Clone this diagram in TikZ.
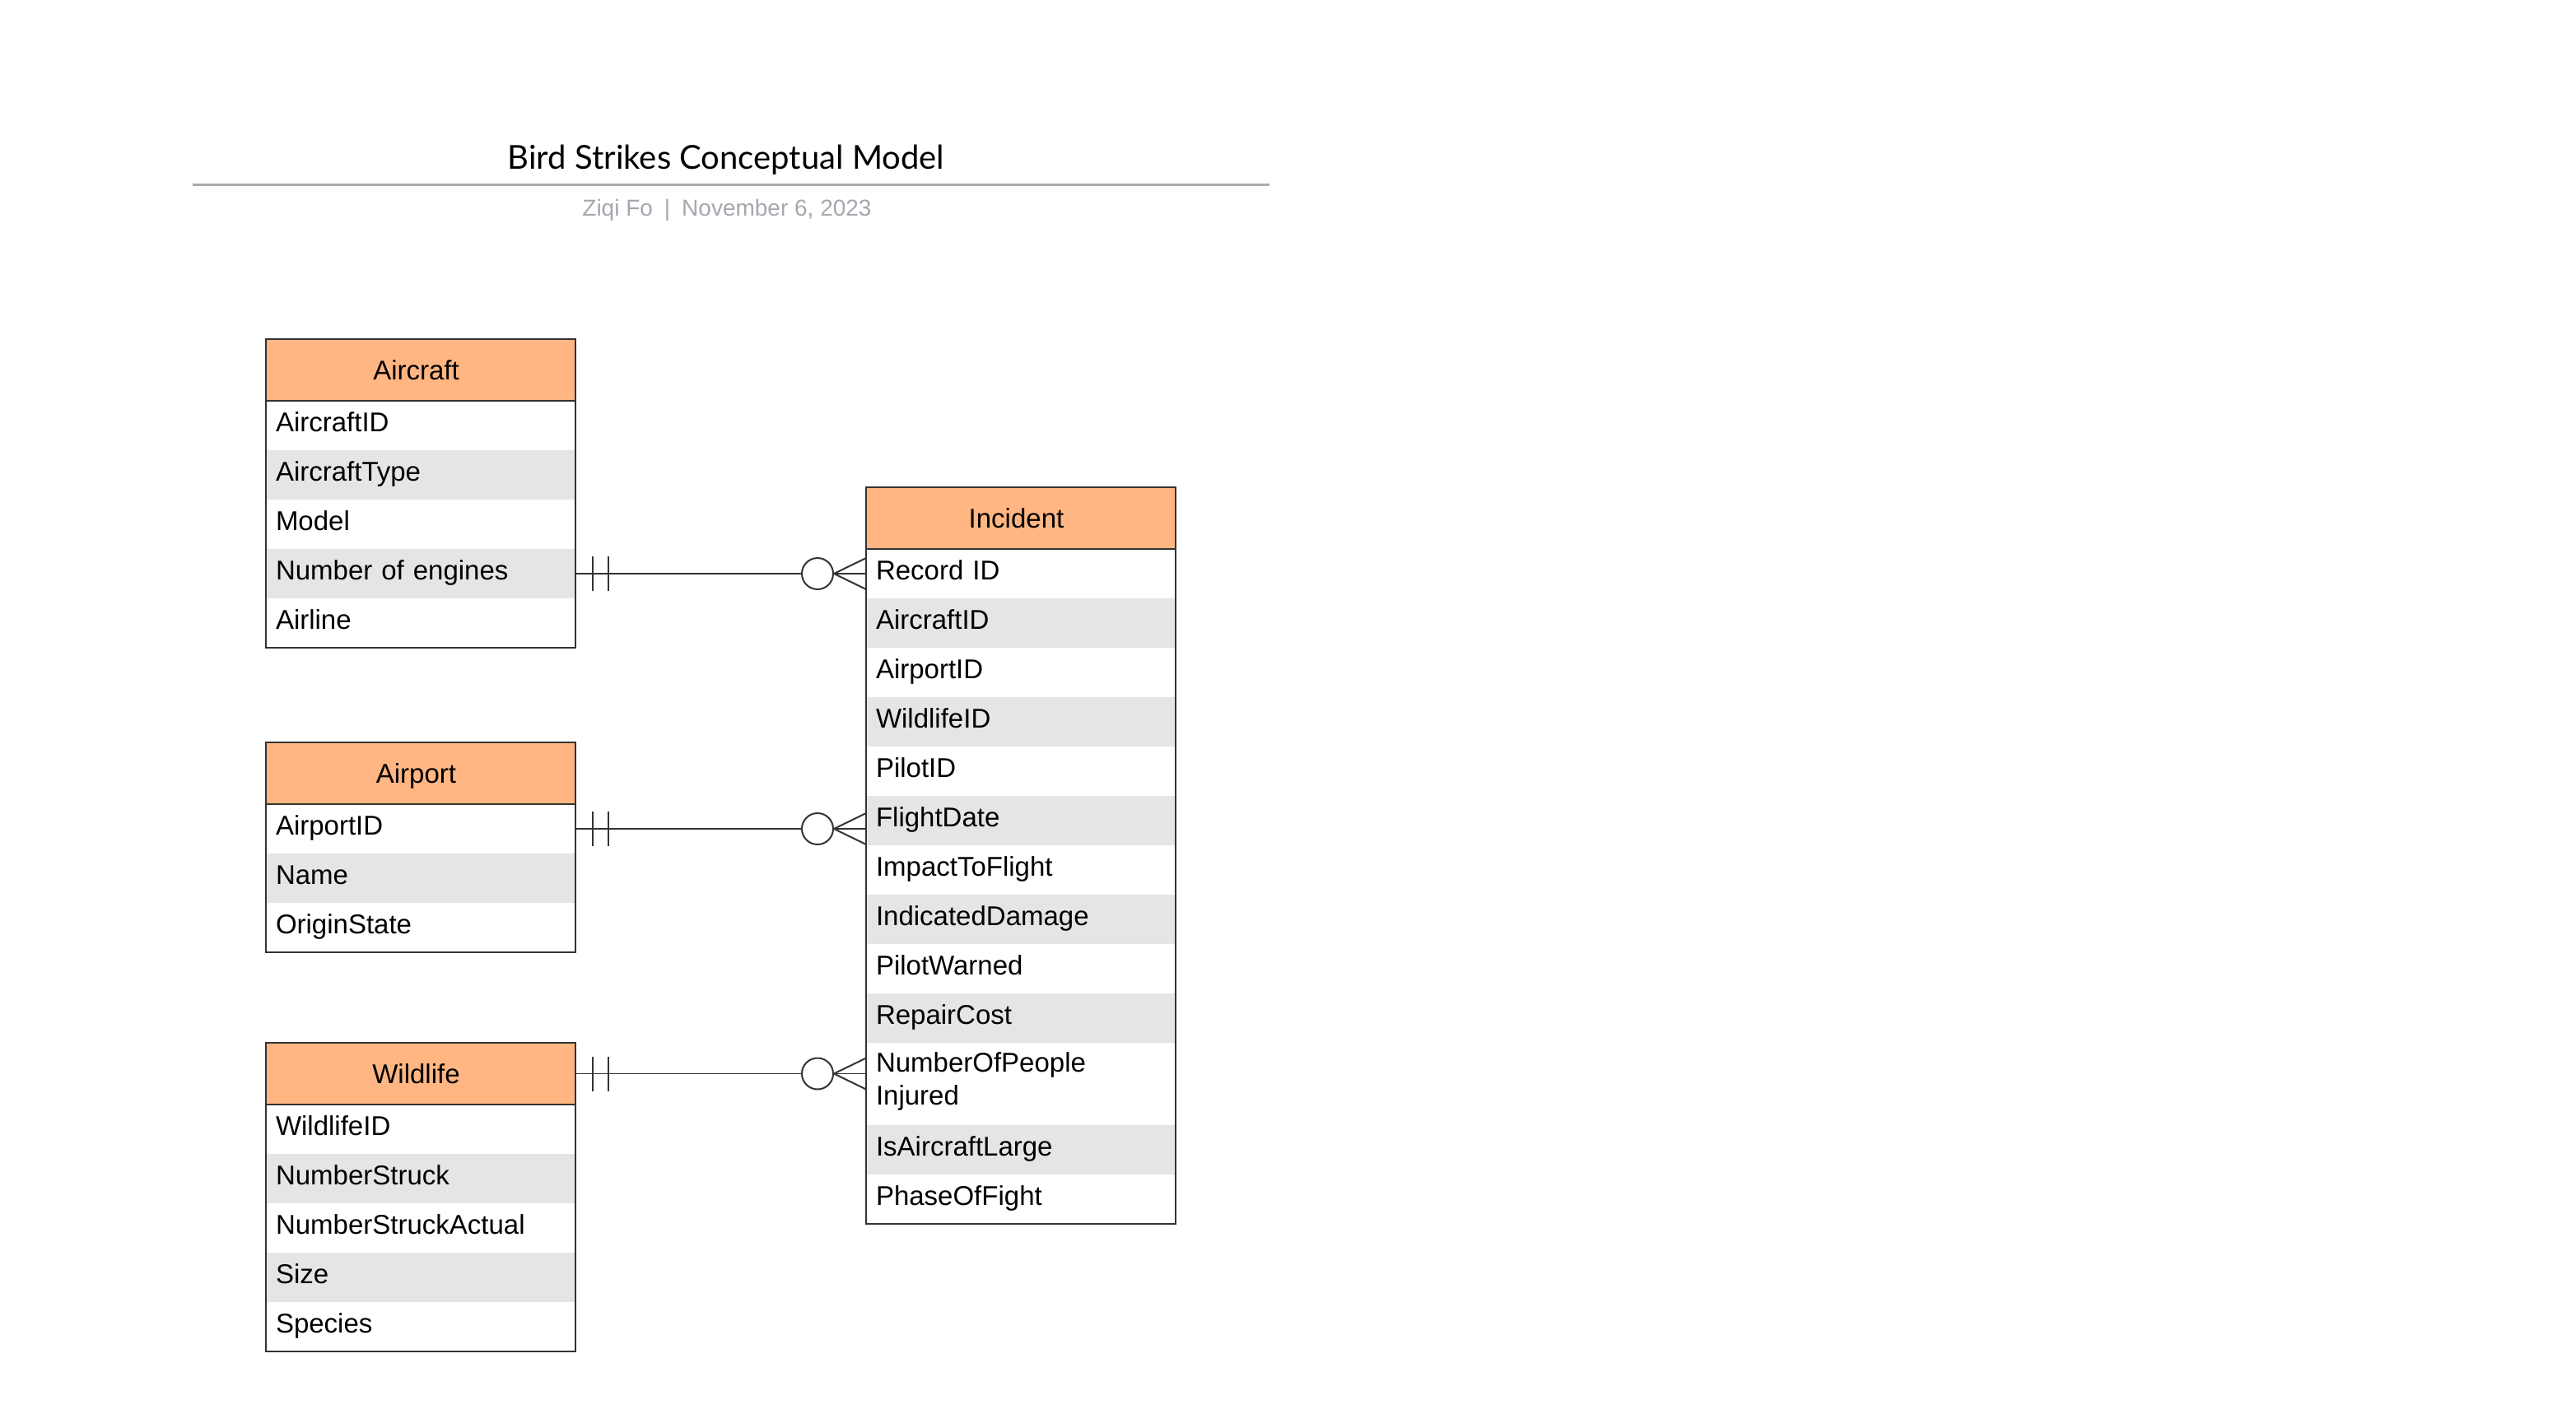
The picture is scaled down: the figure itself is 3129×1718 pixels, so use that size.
\documentclass[tikz,border=0pt]{standalone}
\usepackage{fontspec}
\usetikzlibrary{calc}
\newfontfamily\tabfont{Liberation Sans}
\newfontfamily\titlefont{Lato}
\definecolor{hdrfill}{HTML}{FFB682}
\definecolor{stripe}{HTML}{E5E5E5}
\definecolor{bord}{HTML}{333333}
\definecolor{subgray}{HTML}{A4A8AE}
\definecolor{rulegray}{HTML}{A8AAAE}
\newcommand\tabf{\tabfont\fontsize{33pt}{40pt}\selectfont}
\newcommand\erconn[2]{%
  \draw[conn] (#1) -- (#2);
  \draw[connmark] ($(#1)+(21,-21)$) -- ++(0,42);
  \draw[connmark] ($(#1)+(40,-21)$) -- ++(0,42);
  \draw[connmark, fill=white] ($(#2)+(-59,0)$) circle[radius=19pt];
  \draw[connmark] ($(#2)+(0,-19)$) -- ($(#2)+(-39,0)$) -- ($(#2)+(0,19)$);
}
\tikzset{
  hdr/.style={rectangle, draw=bord, line width=2pt, fill=hdrfill, minimum width=376pt,
    minimum height=75pt, inner sep=0pt, outer sep=0pt, font=\tabf, anchor=north west,
    text height=23.6pt, text depth=0pt, execute at end node={\hspace{11pt}}},
  rowW/.style={rectangle, fill=white, minimum width=376pt, minimum height=60pt,
    text width=352pt, align=left, inner xsep=12pt, inner ysep=0pt, outer sep=0pt,
    text height=23.6pt, text depth=9.6pt, font=\tabf, anchor=north west},
  rowG/.style={rowW, fill=stripe},
  tabborder/.style={draw=bord, line width=2pt},
  conn/.style={draw=bord, line width=1.5pt},
  connmark/.style={draw=bord, line width=2pt},
}
\begin{document}
\begin{tikzpicture}[x=1pt,y=-1pt]
\useasboundingbox[fill=white] (0,0) rectangle (3129,1718);

% Title
\node[anchor=base, font={\titlefont\fontsize{40pt}{48pt}\selectfont}, inner sep=0pt] (title) at (882,205) {Bird Strikes Conceptual Model};
\draw[rulegray, line width=3pt] (234,224) -- (1542,224);
\node[anchor=base, text=subgray, font={\tabfont\fontsize{28pt}{32pt}\selectfont}, inner sep=0pt] (subtitle) at (883,262) {Ziqi Fo\hspace{0.5em}|\hspace{0.5em}November 6, 2023};

% Aircraft
\node[hdr] (ac-h) at (323,412) {Aircraft};
\node[rowW] (ac-1) at (ac-h.south west) {AircraftID};
\node[rowG] (ac-2) at (ac-1.south west) {AircraftType};
\node[rowW] (ac-3) at (ac-2.south west) {Model};
\node[rowG] (ac-4) at (ac-3.south west) {Number of engines};
\node[rowW] (ac-5) at (ac-4.south west) {Airline};
\draw[tabborder] (ac-h.north west) rectangle (ac-5.south east);
\draw[tabborder] (ac-h.south west) -- (ac-h.south east);

% Airport
\node[hdr] (ap-h) at (323,902) {Airport};
\node[rowW] (ap-1) at (ap-h.south west) {AirportID};
\node[rowG] (ap-2) at (ap-1.south west) {Name};
\node[rowW] (ap-3) at (ap-2.south west) {OriginState};
\draw[tabborder] (ap-h.north west) rectangle (ap-3.south east);
\draw[tabborder] (ap-h.south west) -- (ap-h.south east);

% Wildlife
\node[hdr] (wl-h) at (323,1267) {Wildlife};
\node[rowW] (wl-1) at (wl-h.south west) {WildlifeID};
\node[rowG] (wl-2) at (wl-1.south west) {NumberStruck};
\node[rowW] (wl-3) at (wl-2.south west) {NumberStruckActual};
\node[rowG] (wl-4) at (wl-3.south west) {Size};
\node[rowW] (wl-5) at (wl-4.south west) {Species};
\draw[tabborder] (wl-h.north west) rectangle (wl-5.south east);
\draw[tabborder] (wl-h.south west) -- (wl-h.south east);

% Incident
\node[hdr] (in-h) at (1052,592) {Incident};
\node[rowW] (in-1) at (in-h.south west) {Record ID};
\node[rowG] (in-2) at (in-1.south west) {AircraftID};
\node[rowW] (in-3) at (in-2.south west) {AirportID};
\node[rowG] (in-4) at (in-3.south west) {WildlifeID};
\node[rowW] (in-5) at (in-4.south west) {PilotID};
\node[rowG] (in-6) at (in-5.south west) {FlightDate};
\node[rowW] (in-7) at (in-6.south west) {ImpactToFlight};
\node[rowG] (in-8) at (in-7.south west) {IndicatedDamage};
\node[rowW] (in-9) at (in-8.south west) {PilotWarned};
\node[rowG] (in-10) at (in-9.south west) {RepairCost};
\node[rowW, minimum height=100pt, text depth=52.6pt] (in-11) at (in-10.south west) {NumberOfPeople\\Injured};
\node[rowG] (in-12) at (in-11.south west) {IsAircraftLarge};
\node[rowW] (in-13) at (in-12.south west) {PhaseOfFight};
\draw[tabborder] (in-h.north west) rectangle (in-13.south east);
\draw[tabborder] (in-h.south west) -- (in-h.south east);

% Relationships
\erconn{ac-4.east}{ac-4.east -| in-1.west}
\erconn{ap-1.east}{ap-1.east -| in-6.west}
\erconn{wl-h.east}{wl-h.east -| in-11.west}
\end{tikzpicture}
\end{document}
